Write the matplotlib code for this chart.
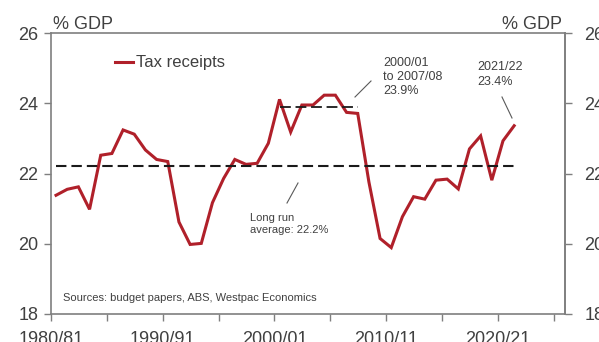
import matplotlib
matplotlib.use("Agg")
import matplotlib.pyplot as plt
import numpy as np

plt.rcParams['font.family'] = ['Liberation Sans', 'DejaVu Sans']

# financial years, start year of each (1980/81 ... 2021/22)
start_years = list(range(1980, 2022))
tax_receipts = [21.38, 21.55, 21.62, 20.98, 22.52, 22.57, 23.24, 23.12, 22.67, 22.40,
                22.34, 20.62, 19.98, 20.01, 21.17, 21.86, 22.40, 22.26, 22.29, 22.86,
                24.11, 23.18, 23.95, 23.95, 24.23, 24.23, 23.74, 23.71, 21.76, 20.15,
                19.89, 20.77, 21.34, 21.27, 21.81, 21.84, 21.56, 22.70, 23.07, 21.81,
                22.93, 23.36]
long_run_avg = 22.2
avg_2000s = 23.9
tick_labels = ['1980/81', '1990/91', '2000/01', '2010/11', '2020/21']

red = '#B0202A'
grey_txt = '#404040'
spine_col = '#7f7f7f'

x = np.array(start_years) - 1980 + 0.45

fig = plt.figure(figsize=(5.99, 3.42), dpi=100)
ax = fig.add_axes([51/599, 1-314/342, 514/599, 281/342])

ax.plot(x, tax_receipts, color=red, lw=2.2, label='Tax receipts', solid_joinstyle='miter')
ax.plot([x[0], x[-1]], [long_run_avg]*2, color='#1a1a1a', lw=1.5, dashes=(5, 2.4))
i0, i1 = start_years.index(2000), start_years.index(2007)
ax.plot([x[i0], x[i1]], [avg_2000s]*2, color='#1a1a1a', lw=1.3, dashes=(6, 2.6))

ax.set_xlim(0, 46)
ax.set_ylim(18, 26)
ax.set_yticks([18, 20, 22, 24, 26])
ax.set_xticks(np.arange(0, 46, 5))
ax.set_xticklabels([tick_labels[i // 2] if i % 2 == 0 else '' for i in range(10)])

for s in ax.spines.values():
    s.set_color(spine_col)
    s.set_linewidth(1.2)
ax.tick_params(axis='both', colors=spine_col, labelcolor=grey_txt, labelsize=13,
               length=5, width=1)
ax.tick_params(axis='x', pad=7)
ax.tick_params(axis='y', pad=4)

ax2 = ax.twinx()
ax2.set_ylim(18, 26)
ax2.set_yticks([18, 20, 22, 24, 26])
for s in ax2.spines.values():
    s.set_visible(False)
ax2.spines['right'].set_visible(True)
ax2.spines['right'].set_color(spine_col)
ax2.spines['right'].set_linewidth(1.2)
ax2.tick_params(axis='y', colors=spine_col, labelcolor=grey_txt, labelsize=13,
                length=5, width=1, pad=9)

fig.text(53/599, 1-29/342, '% GDP', fontsize=13, color=grey_txt, ha='left', va='baseline')
fig.text(562/599, 1-29/342, '% GDP', fontsize=13, color=grey_txt, ha='right', va='baseline')

ax.legend(loc='center left', bbox_to_anchor=((115-51)/514, (314-63)/281), frameon=False,
          fontsize=12, handlelength=1.1, handletextpad=0.15, borderpad=0, borderaxespad=0,
          labelcolor=grey_txt)

def px(xp, yp):
    return ((xp-51)/514*46, 26-(yp-33)/281*8)

ax.text(*px(250, 224), 'Long run\naverage: 22.2%', fontsize=8, color=grey_txt,
        ha='left', va='center', linespacing=1.3)
ax.plot(*zip(px(287, 203), px(298, 183)), color='#595959', lw=0.8)

ax.text(*px(383, 77), '2000/01\nto 2007/08\n23.9%', fontsize=9, color=grey_txt,
        ha='left', va='center', linespacing=1.2)
ax.plot(*zip(px(355, 97), px(371, 81)), color='#595959', lw=0.8)

ax.text(*px(477, 74.5), '2021/22\n23.4%', fontsize=9, color=grey_txt,
        ha='left', va='center', linespacing=1.25)
ax.plot(*zip(px(502, 97), px(512, 118)), color='#595959', lw=0.8)

ax.text(*px(63, 298), 'Sources: budget papers, ABS, Westpac Economics', fontsize=8,
        color=grey_txt, ha='left', va='center')

fig.savefig('out.png', dpi=100)
